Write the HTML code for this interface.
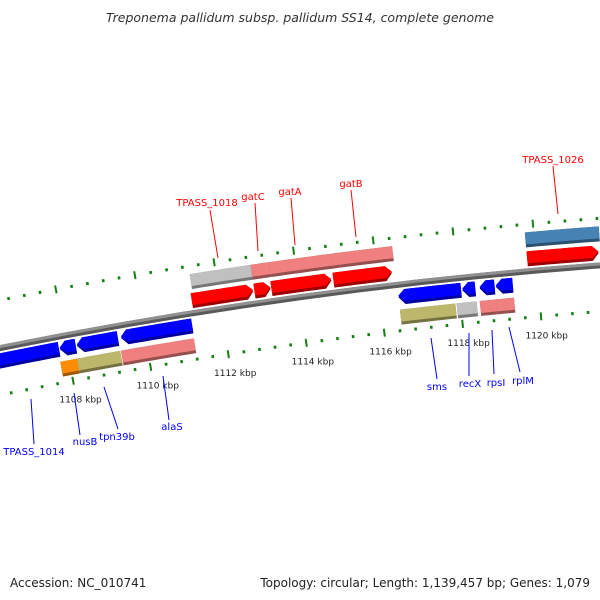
<!DOCTYPE html>
<html><head><meta charset="utf-8">
<style>
html,body{margin:0;padding:0;background:#fff;}
svg{display:block;font-family:"DejaVu Sans","Liberation Sans",sans-serif;}
</style></head>
<body>
<svg id="map" width="600" height="600" viewBox="0 0 600 600">
<rect width="600" height="600" fill="#fff"/>
<text x="300" y="22" text-anchor="middle" font-size="12.5" font-style="italic" fill="#333">Treponema pallidum subsp. pallidum SS14, complete genome</text>
<text x="10" y="587" font-size="12" fill="#222">Accession: NC_010741</text>
<text x="590" y="587" text-anchor="end" font-size="12" fill="#222">Topology: circular; Length: 1,139,457 bp; Genes: 1,079</text>
<g id="plot"></g>
</svg>
<script>
// Feature data (kbp positions)
const fwdStarts = [1111.30, 1112.89, 1113.32, 1114.89, 1119.78];
const fwdEnds   = [1112.86, 1113.30, 1114.84, 1116.37, 1121.58];
const outerStarts = [1111.35, 1112.89, 1113.35, 1114.92, 1119.78];
const outerEnds   = [1112.89, 1113.35, 1114.92, 1116.45, 1121.63];
const outerColors = ['#c0c0c0', '#f08080', '#f08080', '#f08080', '#4682b4'];
const revStarts = [1105.3, 1107.82, 1108.26, 1109.39, 1116.46, 1118.08, 1118.52, 1118.93];
const revEnds   = [1107.80, 1108.23, 1109.31, 1111.21, 1118.05, 1118.41, 1118.90, 1119.36];
const innerStarts = [1107.77, 1108.20, 1109.33, 1116.46, 1117.90, 1118.49, 1118.90];
const innerEnds   = [1108.20, 1109.31, 1111.20, 1117.87, 1118.41, 1118.90, 1119.36];
const innerColors = ['#ff8c00', '#bdb76b', '#f08080', '#bdb76b', '#c0c0c0', '#f08080', '#f08080'];
const tickLabels = ['1108 kbp','1110 kbp','1112 kbp','1114 kbp','1116 kbp','1118 kbp','1120 kbp'];
const tickLabelPos = [1108, 1110, 1112, 1114, 1116, 1118, 1120];
const topLabels = ['TPASS_1018','gatC','gatA','gatB','TPASS_1026'];
const topLabelX = [207, 253, 290, 351, 553];
const topLabelY = [206, 200, 195, 187, 163];
const topLine = [[210,210,218,258],[255,203,258,251],[291,198,295,245],[351,190,356,237],[553,166,558,214]];
const botLabels = ['TPASS_1014','nusB','tpn39b','alaS','sms','recX','rpsI','rplM'];
const botLabelX = [34, 85, 117, 172, 437, 470, 496, 523];
const botLabelY = [455, 445, 440, 430, 390, 387, 386, 384];
const botLine = [[31,399,34,444],[74,393,80,435],[104,387,118,429],[163,376,169,420],[431,338,437,379],[469,333,469,376],[492,330,494,374],[509,327,520,372]];

const NS='http://www.w3.org/2000/svg';
const g=document.getElementById('plot');
const CX=960, CY=5091;
function ang(p){return (-5.015+(p-1120)*0.47075)*Math.PI/180;}
function pt(p,r){const t=ang(p);return [CX+r*Math.sin(t), CY-r*Math.cos(t)];}
function band(p1,p2,rIn,rOut,head){
  const h=0.16, n=12, pts=[];
  let a=p1,b=p2;
  if(head==='R') b=Math.max(p1,p2-h);
  if(head==='L') a=Math.min(p2,p1+h);
  if(head==='L') pts.push(pt(p1,(rIn+rOut)/2));
  for(let i=0;i<=n;i++) pts.push(pt(a+(b-a)*i/n,rOut));
  if(head==='R') pts.push(pt(p2,(rIn+rOut)/2));
  for(let i=n;i>=0;i--) pts.push(pt(a+(b-a)*i/n,rIn));
  return pts.map(q=>q[0].toFixed(2)+','+q[1].toFixed(2)).join(' ');
}
function shade(c){
  const n=parseInt(c.slice(1),16);
  const r=Math.round(((n>>16)&255)*0.62),gg=Math.round(((n>>8)&255)*0.62),b=Math.round((n&255)*0.62);
  return 'rgb('+r+','+gg+','+b+')';
}
function feature(p1,p2,rIn,rOut,head,color,name){
  const d=document.createElementNS(NS,'polygon');
  d.setAttribute('points',band(p1,p2,rIn,rOut,head));
  d.setAttribute('fill',shade(color));
  
  
  g.appendChild(d);
  const m=document.createElementNS(NS,'polygon');
  m.setAttribute('points',band(p1,p2,rIn+3,rOut,head));
  m.setAttribute('fill',color);
  
  
  g.appendChild(m);
}
// backbone
feature(1105.0,1123.0,4836,4842,null,'#909090','backbone');
// ticks
function ticks(r,label){
  for(let k=0;k<=45;k++){
    const p=1105.2+k*0.4;
    const major=Math.abs(p/2-Math.round(p/2))<0.01;
    const len=major?8:3;
    const a=pt(p,r-len/2), b=pt(p,r+len/2);
    const l=document.createElementNS(NS,'line');
    l.setAttribute('x1',a[0]);l.setAttribute('y1',a[1]);l.setAttribute('x2',b[0]);l.setAttribute('y2',b[1]);
    l.setAttribute('stroke','#128012');l.setAttribute('stroke-width',major?2:2.6);
    
    
    g.appendChild(l);
  }
}
ticks(4886,'outer');
ticks(4793,'inner');
tickLabels.forEach((t,i)=>{
  const q=pt(tickLabelPos[i],4774);
  const e=document.createElementNS(NS,'text');
  e.setAttribute('x',q[0]+4);e.setAttribute('y',q[1]+3);
  e.setAttribute('text-anchor','middle');e.setAttribute('font-size','9');e.setAttribute('fill','#222');
  e.textContent=t;
  
  
  g.appendChild(e);
});
fwdStarts.forEach((s,i)=>feature(s,fwdEnds[i],4844,4859,'R','#ff0000','forward-cds'));
outerStarts.forEach((s,i)=>feature(s,outerEnds[i],4863,4878,null,outerColors[i],'outer-feature'));
revStarts.forEach((s,i)=>feature(s,revEnds[i],4819,4834,'L','#0000ff','reverse-cds'));
innerStarts.forEach((s,i)=>feature(s,innerEnds[i],4799,4814,null,innerColors[i],'inner-feature'));
function labels(arr,xs,ys,lines,color,nm){
  arr.forEach((t,i)=>{
    const L=lines[i];
    const l=document.createElementNS(NS,'line');
    l.setAttribute('x1',L[0]);l.setAttribute('y1',L[1]);l.setAttribute('x2',L[2]);l.setAttribute('y2',L[3]);
    l.setAttribute('stroke',color);l.setAttribute('stroke-width','1');
    
    
    g.appendChild(l);
    const e=document.createElementNS(NS,'text');
    e.setAttribute('x',xs[i]);e.setAttribute('y',ys[i]);
    e.setAttribute('text-anchor','middle');e.setAttribute('font-size','10');e.setAttribute('fill',color);
    e.textContent=t;
    
    
    g.appendChild(e);
  });
}
labels(topLabels,topLabelX,topLabelY,topLine,'#ff0000','forward');
labels(botLabels,botLabelX,botLabelY,botLine,'#0000ff','reverse');
</script>
</body></html>
